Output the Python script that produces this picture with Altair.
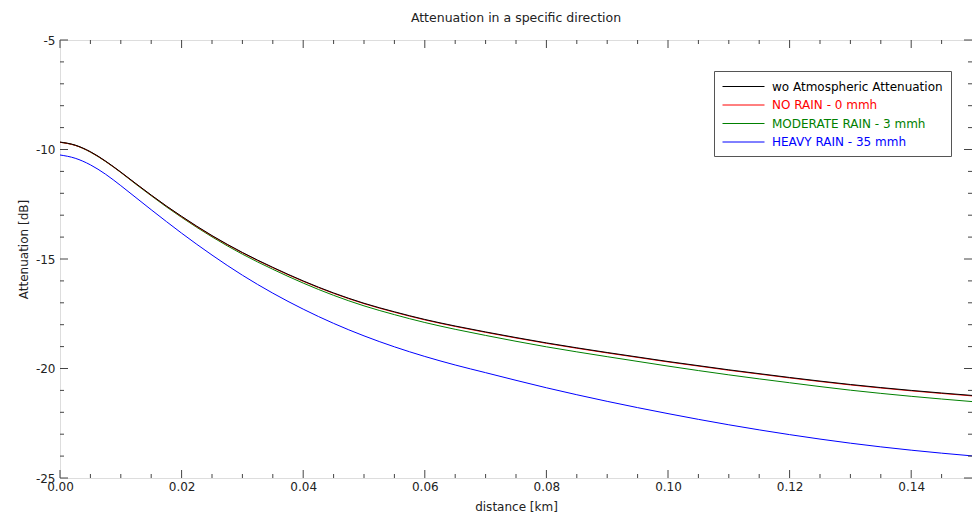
import altair as alt
import pandas as pd

distance = [0, 0.0025, 0.005, 0.0075, 0.01, 0.0125, 0.015, 0.0175, 0.02, 0.025, 0.03, 0.035,
            0.04, 0.045, 0.05, 0.055, 0.06, 0.065, 0.07, 0.08, 0.09, 0.10, 0.11, 0.12, 0.13, 0.14, 0.15]

wo_atm = [-9.66, -9.8, -10.1, -10.53, -11.03, -11.56, -12.08, -12.58, -13.05, -13.93, -14.7, -15.38,
          -16.0, -16.55, -17.02, -17.41, -17.76, -18.06, -18.33, -18.83, -19.27, -19.68, -20.06, -20.41,
          -20.73, -21.0, -21.23]
no_rain = [-9.67, -9.81, -10.11, -10.54, -11.04, -11.57, -12.09, -12.59, -13.07, -13.95, -14.72, -15.4,
           -16.02, -16.57, -17.04, -17.43, -17.78, -18.08, -18.35, -18.85, -19.29, -19.7, -20.08, -20.43,
           -20.75, -21.02, -21.25]
moderate = [-9.67, -9.81, -10.12, -10.55, -11.05, -11.59, -12.11, -12.62, -13.1, -13.99, -14.78, -15.47,
            -16.1, -16.66, -17.14, -17.54, -17.9, -18.21, -18.49, -19.01, -19.46, -19.89, -20.29, -20.65,
            -20.99, -21.27, -21.51]
heavy = [-10.25, -10.4, -10.7, -11.13, -11.65, -12.2, -12.75, -13.29, -13.82, -14.82, -15.74, -16.56,
         -17.29, -17.94, -18.51, -19.01, -19.45, -19.84, -20.19, -20.88, -21.5, -22.06, -22.57, -23.02,
         -23.41, -23.73, -23.99]

series_names = ["wo Atmospheric Attenuation", "NO RAIN - 0 mmh", "MODERATE RAIN - 3 mmh", "HEAVY RAIN - 35 mmh"]
series_colors = ["#000000", "#ff0000", "#008000", "#0000ff"]

x_major = [0.0, 0.02, 0.04, 0.06, 0.08, 0.10, 0.12, 0.14]
x_minor = [0.005, 0.01, 0.015, 0.025, 0.03, 0.035, 0.045, 0.05, 0.055, 0.065, 0.07, 0.075,
           0.085, 0.09, 0.095, 0.105, 0.11, 0.115, 0.125, 0.13, 0.135, 0.145]
y_major = [-25, -20, -15, -10, -5]
y_minor = [-24, -23, -22, -21, -19, -18, -17, -16, -14, -13, -12, -11, -9, -8, -7, -6]

rows = []
for name, vals in [(series_names[3], heavy), (series_names[2], moderate),
                   (series_names[1], no_rain), (series_names[0], wo_atm)]:
    for d, v in zip(distance, vals):
        rows.append({"distance": d, "attenuation": v, "series": name})
df = pd.DataFrame(rows)

FONT = "DejaVu Sans"
AX = "#444444"
TXT = "#222222"
W, H = 912, 438

xscale = alt.Scale(domain=[0, 0.15], nice=False, zero=False)
yscale = alt.Scale(domain=[-25, -5], nice=False, zero=False)

xaxis = alt.Axis(title="distance [km]", values=x_major, format=".2f", ticks=False,
                 domain=False, grid=False, labelFlush=False, labelPadding=3,
                 titlePadding=9, labelFontSize=12, titleFontSize=12, labelFont=FONT,
                 titleFont=FONT, titleFontWeight="normal", labelColor=TXT,
                 titleColor=TXT, labelOverlap=False)
yaxis = alt.Axis(title="Attenuation [dB]", values=y_major, ticks=False,
                 labelExpr="toString(datum.value)",
                 domain=False, grid=False, labelFlush=False, labelPadding=5,
                 titlePadding=5, titleY=209, labelFontSize=12, titleFontSize=12, labelFont=FONT,
                 titleFont=FONT, titleFontWeight="normal", labelColor=TXT,
                 titleColor=TXT, labelOverlap=False)

lines = alt.Chart(df).mark_line(strokeWidth=1, interpolate="monotone", clip=True).encode(
    x=alt.X("distance:Q", scale=xscale, axis=xaxis),
    y=alt.Y("attenuation:Q", scale=yscale, axis=yaxis),
    color=alt.Color("series:N",
                    scale=alt.Scale(domain=series_names, range=series_colors),
                    legend=alt.Legend(title=None, orient="none", legendX=654, legendY=31,
                                      direction="vertical", fillColor="white", strokeColor="#555555",
                                      padding=8, symbolType="M-1,0H5", symbolSize=196,
                                      symbolStrokeWidth=1, labelFontSize=12, labelFont=FONT,
                                      labelOffset=35, rowPadding=4.5, labelLimit=0,
                                      labelColor=alt.ExprRef(expr="scale('color', datum.value)"))),
)


def xticks(vals, length, top):
    return alt.Chart(pd.DataFrame({"v": vals})).mark_rule(color=AX, strokeWidth=1).encode(
        x=alt.X("v:Q", scale=xscale, axis=xaxis),
        y=alt.value(0 if top else H),
        y2=alt.value(length if top else H - length),
    )


def yticks(vals, length, right):
    return alt.Chart(pd.DataFrame({"v": vals})).mark_rule(color=AX, strokeWidth=1).encode(
        y=alt.Y("v:Q", scale=yscale, axis=yaxis),
        x=alt.value(W if right else 0),
        x2=alt.value(W - length if right else length),
    )


ticks = [
    xticks(x_major, 8, False), xticks(x_minor, 4, False),
    xticks(x_major, 8, True), xticks(x_minor, 4, True),
    yticks(y_major, 8, False), yticks(y_minor, 4, False),
    yticks(y_major, 8, True), yticks(y_minor, 4, True),
]

chart = alt.layer(lines, *ticks).properties(
    width=W, height=H,
    title=alt.TitleParams("Attenuation in a specific direction", fontSize=12.5, font=FONT,
                          fontWeight="normal", color=TXT, anchor="middle", offset=10),
    autosize=alt.AutoSizeParams(type="none"),
    padding={"left": 52, "top": 32, "right": 0, "bottom": 35},
).configure_view(stroke=AX, strokeWidth=1).configure(background="white")

chart.save("out.html", embed_options={"renderer": "svg", "actions": False})
